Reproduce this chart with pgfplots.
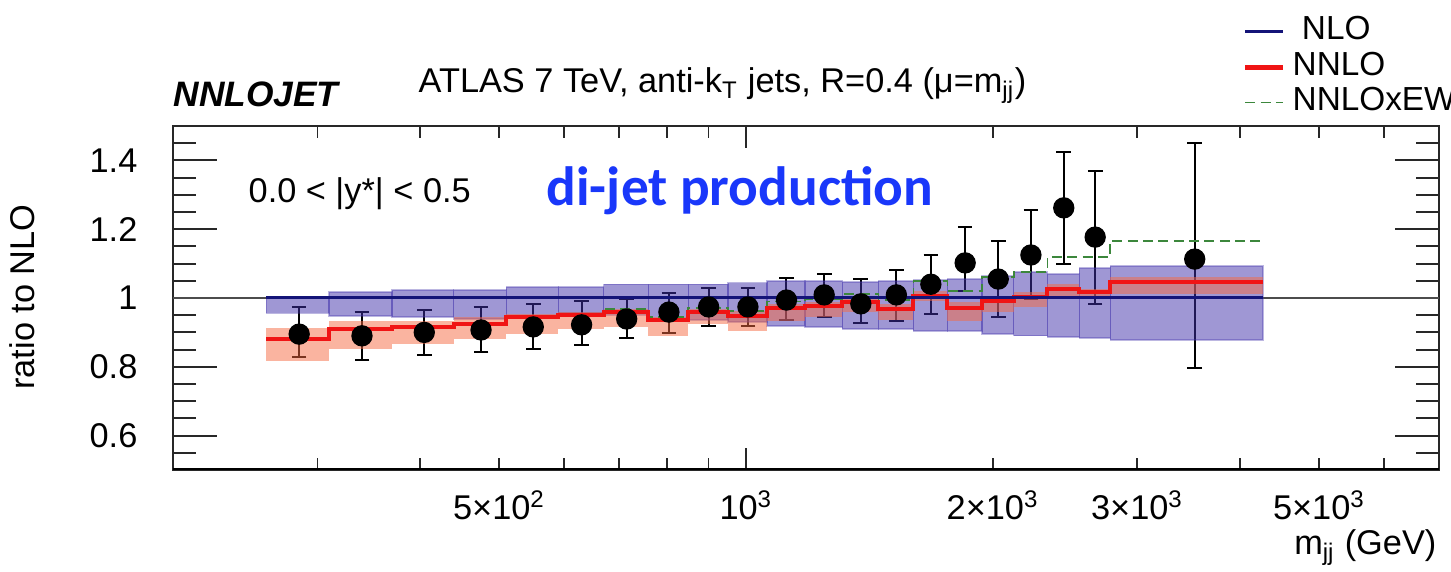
\documentclass[border=0pt]{standalone}
\usepackage{fontspec}
\setmainfont{Liberation Sans}
\newfontfamily\calfont{Carlito}
\usepackage{pgfplots}
\usepackage{pgfplotstable}
\pgfplotsset{compat=1.18}

\definecolor{nlofill}{RGB}{64,48,170}
\definecolor{nnlofill}{RGB}{245,105,65}
\definecolor{nloline}{RGB}{20,20,120}
\definecolor{nnloline}{RGB}{240,20,20}
\definecolor{ewline}{RGB}{60,135,60}
\definecolor{labelblue}{RGB}{25,55,250}
\definecolor{framegray}{RGB}{40,40,40}

\newcommand\fs{\fontsize{10.3}{12}\selectfont}

% bins in m_jj (GeV): data with total errors, NLO and NNLO scale bands
\pgfplotstableread{
lo   hi   x    y     ehi   elo   nlolo nlohi nnlolo nnlohi
260  310  285  0.895 0.974 0.828 0.955 1.005 0.817 0.913
310  370  340  0.890 0.959 0.820 0.948 1.017 0.852 0.933
370  440  405  0.900 0.965 0.834 0.945 1.023 0.866 0.933
440  510  475  0.907 0.974 0.843 0.939 1.023 0.880 0.945
510  590  550  0.916 0.983 0.852 0.948 1.032 0.895 0.953
590  670  630  0.922 0.990 0.863 0.956 1.032 0.910 0.959
670  760  715  0.939 0.997 0.884 0.950 1.040 0.915 0.968
760  850  805  0.959 1.015 0.898 0.940 1.040 0.890 0.945
850  950  900  0.974 1.029 0.919 0.936 1.040 0.924 0.968
950  1060 1005 0.974 1.029 0.919 0.930 1.045 0.904 0.962
1060 1180 1120 0.994 1.058 0.936 0.919 1.049 0.933 0.983
1180 1310 1245 1.009 1.070 0.945 0.916 1.049 0.945 0.988
1310 1450 1380 0.983 1.055 0.927 0.910 1.046 0.959 0.997
1450 1600 1525 1.009 1.081 0.933 0.910 1.049 0.936 0.983
1600 1760 1680 1.040 1.125 0.953 0.904 1.052 0.990 1.020
1760 1940 1850 1.102 1.206 1.020 0.904 1.055 0.933 0.988
1940 2120 2030 1.055 1.166 0.945 0.895 1.064 0.959 1.003
2120 2330 2225 1.125 1.256 0.997 0.890 1.076 0.974 1.017
2330 2550 2440 1.262 1.424 1.099 0.887 1.070 1.006 1.041
2550 2780 2665 1.177 1.369 0.983 0.884 1.087 0.997 1.026
2780 4270 3525 1.113 1.451 0.797 0.878 1.093 1.012 1.061
}\bins

% central predictions per bin edge (last row closes the final bin)
\pgfplotstableread{
edge nlo nnlo  ew
260  1   0.880 0.882
310  1   0.910 0.912
370  1   0.916 0.918
440  1   0.924 0.927
510  1   0.945 0.949
590  1   0.950 0.955
670  1   0.960 0.968
760  1   0.936 0.945
850  1   0.959 0.970
950  1   0.948 0.962
1060 1   0.971 0.990
1180 1   0.977 0.998
1310 1   0.988 1.012
1450 1   0.968 0.995
1600 1   1.006 1.049
1760 1   0.971 1.020
1940 1   0.991 1.061
2120 1   1.003 1.076
2330 1   1.026 1.119
2550 1   1.017 1.119
2780 1   1.046 1.166
4270 1   1.046 1.166
}\steps

\begin{document}
\begin{tikzpicture}
% x ticks and labels
\begin{axis}[
  scale only axis, width=379.8pt, height=103.2pt,
  at={(0pt,0pt)}, anchor=south west,
  xmode=log, xmin=200, xmax=7000, ymin=0.5, ymax=1.5,
  axis line style={line width=0.6pt, framegray},
  tick align=inside,
  tick label style={font=\fs},
  ytick=\empty,
  xtick={300,400,500,600,700,800,900,1000,2000,3000,4000,5000,6000},
  xticklabels={,,5×10\textsuperscript{2},,,,,10\textsuperscript{3},2×10\textsuperscript{3},3×10\textsuperscript{3},,5×10\textsuperscript{3},},
  minor xtick={1000},
  major tick length=3.6pt, minor tick length=6.6pt,
  every tick/.style={line width=0.5pt, framegray},
  xticklabel style={inner sep=0pt, yshift=-6pt},
]
\end{axis}
% y ticks, predictions and data
\begin{axis}[
  scale only axis, width=379.8pt, height=103.2pt,
  at={(0pt,0pt)}, anchor=south west,
  xmode=log, xmin=200, xmax=7000, ymin=0.5, ymax=1.5,
  axis line style={line width=0.6pt, framegray},
  tick align=inside,
  tick label style={font=\fs},
  /pgf/number format/assume math mode=true,
  xtick=\empty, minor xtick={},
  ytick={0.6,0.8,1,1.2,1.4},
  minor ytick={0.55,0.65,0.7,0.75,0.85,0.9,0.95,1.05,1.1,1.15,1.25,1.3,1.35,1.45},
  major tick length=13.2pt, minor tick length=6.9pt,
  every tick/.style={line width=0.6pt, framegray},
  yticklabel style={inner sep=0pt, xshift=-10.5pt},
  legend style={at={(axis description cs:0.8444,1.322)}, anchor=north west,
    draw=none, fill=none, inner sep=0pt, font=\fontsize{10}{12}\selectfont,
    row sep=3.4pt, column sep=2.1pt,
    nodes={inner sep=0pt, text height=7.2pt, text depth=0pt}},
  legend cell align=left,
  legend image code/.code={\draw[#1] (0pt,-1.2pt) -- (11.4pt,-1.2pt);},
]
\addplot[forget plot, line width=0.8pt, black!70] coordinates {(200,1) (7000,1)};

\addplot[forget plot, only marks, mark=*, mark size=3pt, black,
  error bars/.cd, y dir=both, y explicit, error mark=-,
  error bar style={line width=0.6pt, black},
  error mark options={rotate=90, line width=0.6pt, mark size=2.2pt, black}]
  table[x=x, y=y, y error plus expr=\thisrow{ehi}-\thisrow{y},
        y error minus expr=\thisrow{y}-\thisrow{elo}] {\bins};

\pgfplotsinvokeforeach{0,...,20}{%
  \pgfplotstablegetelem{#1}{lo}\of\bins \let\blo\pgfplotsretval
  \pgfplotstablegetelem{#1}{hi}\of\bins \let\bhi\pgfplotsretval
  \pgfplotstablegetelem{#1}{nlolo}\of\bins \let\ba\pgfplotsretval
  \pgfplotstablegetelem{#1}{nlohi}\of\bins \let\bb\pgfplotsretval
  \edef\temp{\noexpand\addplot[forget plot, fill=nlofill, fill opacity=0.5, draw=nlofill, draw opacity=0.35, line width=0.4pt] coordinates {(\blo,\ba) (\bhi,\ba) (\bhi,\bb) (\blo,\bb)} -- cycle;}%
  \temp
}
\pgfplotsinvokeforeach{0,...,20}{%
  \pgfplotstablegetelem{#1}{lo}\of\bins \let\blo\pgfplotsretval
  \pgfplotstablegetelem{#1}{hi}\of\bins \let\bhi\pgfplotsretval
  \pgfplotstablegetelem{#1}{nnlolo}\of\bins \let\ba\pgfplotsretval
  \pgfplotstablegetelem{#1}{nnlohi}\of\bins \let\bb\pgfplotsretval
  \edef\temp{\noexpand\addplot[forget plot, fill=nnlofill, fill opacity=0.5, draw=none] coordinates {(\blo,\ba) (\bhi,\ba) (\bhi,\bb) (\blo,\bb)} -- cycle;}%
  \temp
}

\addplot[forget plot, const plot, ewline, line width=0.5pt, dash pattern=on 3pt off 1.6pt] table[x=edge, y=ew] {\steps};
\addplot[forget plot, const plot, nnloline, line width=1.2pt] table[x=edge, y=nnlo] {\steps};
\addplot[forget plot, const plot, nloline, line width=0.9pt] table[x=edge, y=nlo] {\steps};

\draw[line width=1pt, black] (rel axis cs:0,0) -- (rel axis cs:1,0);

\addlegendimage{nloline, line width=0.9pt}
\addlegendentry{\ NLO}
\addlegendimage{nnloline, line width=1.5pt}
\addlegendentry{NNLO}
\addlegendimage{ewline, line width=0.5pt, dash pattern=on 3pt off 1.6pt}
\addlegendentry{NNLOxEW}
\end{axis}

% texts, positioned in pixel units of the 1451x572 canvas
\begin{scope}[x=0.3pt, y=-0.3pt, shift={(-51.9pt,141pt)}]
\node[anchor=base west, font=\fs, inner sep=0pt] at (418,93)
  {ATLAS 7 TeV, anti-k\textsubscript{T} jets, R=0.4 (μ=m\textsubscript{jj})};
\node[anchor=base west, font=\fontsize{10.6}{12}\selectfont\bfseries\itshape, inner sep=0pt] at (173,107) {NNLOJET};
\node[anchor=base west, font=\fs, inner sep=0pt] at (248,203) {0.0 < |y*| < 0.5};
\node[anchor=base west, font=\calfont\bfseries\fontsize{16.6}{18}\selectfont, text=labelblue, inner sep=0pt] at (546,206) {di-jet production};
\node[anchor=base east, font=\fs, inner sep=0pt] at (1437,555) {m\textsubscript{jj} (GeV)};
\node[rotate=90, font=\fs, inner sep=0pt] at (22,297) {ratio to NLO};
\pgfresetboundingbox
\useasboundingbox (0,0) rectangle (1451,572);
\end{scope}
\end{tikzpicture}
\end{document}
